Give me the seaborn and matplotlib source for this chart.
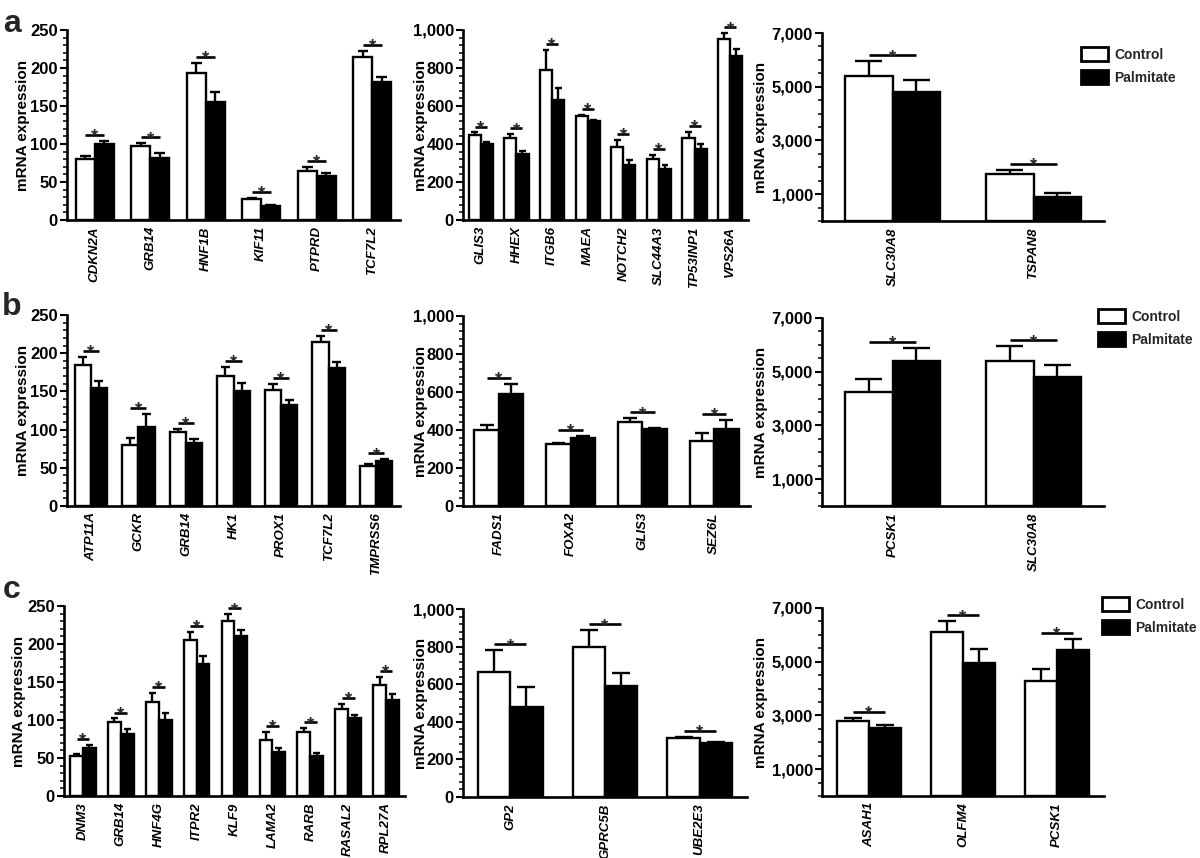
import numpy as np
import pandas as pd
import matplotlib
matplotlib.use("Agg")
import matplotlib.pyplot as plt
import seaborn as sns
from matplotlib.patches import Patch
from matplotlib.ticker import MultipleLocator, FixedLocator, FuncFormatter

# ---------------- data ----------------
a1_genes = ["CDKN2A", "GRB14", "HNF1B", "KIF11", "PTPRD", "TCF7L2"]
a1_ctrl = [80, 97, 193, 28, 65, 215]
a1_ctrl_sem = [4, 4, 14, 1.5, 4.5, 8]
a1_palm = [100, 82, 155, 18, 58, 181]
a1_palm_sem = [4, 6, 13, 1.2, 4, 7]

a2_genes = ["GLIS3", "HHEX", "ITGB6", "MAEA", "NOTCH2", "SLC44A3", "TP53INP1", "VPS26A"]
a2_ctrl = [445, 432, 792, 545, 386, 320, 430, 951]
a2_ctrl_sem = [16, 19, 105, 7, 34, 21, 35, 32]
a2_palm = [400, 348, 629, 521, 290, 269, 376, 864]
a2_palm_sem = [10, 17, 65, 4, 25, 18, 24, 36]

a3_genes = ["SLC30A8", "TSPAN8"]
a3_ctrl = [5410, 1758]
a3_ctrl_sem = [540, 150]
a3_palm = [4785, 885]
a3_palm_sem = [475, 150]

b1_genes = ["ATP11A", "GCKR", "GRB14", "HK1", "PROX1", "TCF7L2", "TMPRSS6"]
b1_ctrl = [184, 80, 97, 170, 152, 215, 53]
b1_ctrl_sem = [11, 9, 4, 12, 8, 8, 1.5]
b1_palm = [154, 104, 82, 150, 132, 181, 59]
b1_palm_sem = [10, 17, 6, 11, 7, 7, 2]

b2_genes = ["FADS1", "FOXA2", "GLIS3", "SEZ6L"]
b2_ctrl = [400, 324, 443, 344]
b2_ctrl_sem = [26, 10, 19, 42]
b2_palm = [590, 359, 403, 406]
b2_palm_sem = [53, 11, 9, 47]

b3_genes = ["PCSK1", "SLC30A8"]
b3_ctrl = [4250, 5410]
b3_ctrl_sem = [470, 540]
b3_palm = [5415, 4785]
b3_palm_sem = [470, 475]

c1_genes = ["DNM3", "GRB14", "HNF4G", "ITPR2", "KLF9", "LAMA2", "RARB", "RASAL2", "RPL27A"]
c1_ctrl = [52, 98, 124, 205, 230, 74, 84, 115, 146]
c1_ctrl_sem = [3, 4, 12, 11, 9, 10, 5, 6, 11]
c1_palm = [63, 82, 100, 174, 211, 58, 52, 102, 126]
c1_palm_sem = [4, 6, 9, 10, 8, 5, 5, 4, 8]

c2_genes = ["GP2", "GPRC5B", "UBE2E3"]
c2_ctrl = [663, 798, 312]
c2_ctrl_sem = [118, 89, 7]
c2_palm = [480, 590, 285]
c2_palm_sem = [105, 70, 5]

c3_genes = ["ASAH1", "OLFM4", "PCSK1"]
c3_ctrl = [2797, 6098, 4268]
c3_ctrl_sem = [112, 408, 470]
c3_palm = [2538, 4948, 5430]
c3_palm_sem = [123, 544, 420]

conditions = ["Control", "Palmitate"]
row_letters = ["a", "b", "c"]

# ---------------- style ----------------
sns.set_theme(style="ticks")
plt.rcParams['font.family'] = ['Liberation Sans', 'DejaVu Sans']
plt.rcParams['font.weight'] = 'bold'
plt.rcParams['axes.labelweight'] = 'bold'

W, H = 1200, 858
fig = plt.figure(figsize=(12, 8.58), dpi=100)

col_style = [
    dict(ymax=250, ticks=list(range(0, 251, 50)), minor=10),
    dict(ymax=1000, ticks=list(range(0, 1001, 200)), minor=40),
    dict(ymax=7000, ticks=[1000, 3000, 5000, 7000], minor=500),
]
# pixel boxes (left, top, right, bottom)
boxes = [
    [(67, 30, 400, 220), (463, 30, 748, 220), (822, 33, 1104, 221)],
    [(67, 315, 400, 506), (463, 316, 750, 506), (822, 318, 1104, 506)],
    [(64, 606, 405, 796), (463, 609, 747, 797), (822, 608, 1104, 796)],
]
label_x = [-0.112, -0.122, -0.19]
legend_px = [(1081, 47), (1098, 309), (1102, 597)]
letter_px = [(3, 32), (2, 315), (3, 598)]

panels = [
    [(a1_genes, a1_ctrl, a1_ctrl_sem, a1_palm, a1_palm_sem),
     (a2_genes, a2_ctrl, a2_ctrl_sem, a2_palm, a2_palm_sem),
     (a3_genes, a3_ctrl, a3_ctrl_sem, a3_palm, a3_palm_sem)],
    [(b1_genes, b1_ctrl, b1_ctrl_sem, b1_palm, b1_palm_sem),
     (b2_genes, b2_ctrl, b2_ctrl_sem, b2_palm, b2_palm_sem),
     (b3_genes, b3_ctrl, b3_ctrl_sem, b3_palm, b3_palm_sem)],
    [(c1_genes, c1_ctrl, c1_ctrl_sem, c1_palm, c1_palm_sem),
     (c2_genes, c2_ctrl, c2_ctrl_sem, c2_palm, c2_palm_sem),
     (c3_genes, c3_ctrl, c3_ctrl_sem, c3_palm, c3_palm_sem)],
]

LW = 1.7


def draw_panel(ax, genes, ctrl, csem, palm, psem, st, lx):
    n = len(genes)
    df = pd.DataFrame({
        "gene": genes + genes,
        "condition": [conditions[0]] * n + [conditions[1]] * n,
        "value": ctrl + palm,
    })
    sns.barplot(data=df, x="gene", y="value", hue="condition", hue_order=conditions,
                palette={"Control": "white", "Palmitate": "black"}, saturation=1,
                edgecolor="black", linewidth=LW, width=0.68, errorbar=None,
                legend=False, ax=ax)
    ymax = st["ymax"]
    # error bars (upper only)
    for cont, sem in zip(ax.containers, [csem, psem]):
        for bar, s in zip(cont, sem):
            x = bar.get_x() + bar.get_width() / 2
            h = bar.get_height()
            w = bar.get_width()
            ax.vlines(x, h, h + s, color="black", lw=LW, zorder=3, clip_on=False)
            ax.hlines(h + s, x - 0.28 * w, x + 0.28 * w, color="black", lw=LW, zorder=3,
                      clip_on=False)
    # significance markers
    for i in range(n):
        cb = ax.containers[0][i]
        pb = ax.containers[1][i]
        x0 = cb.get_x() + cb.get_width() / 2
        x1 = pb.get_x() + pb.get_width() / 2
        y = max(ctrl[i] + csem[i], palm[i] + psem[i]) + 0.031 * ymax
        ax.plot([x0, x1], [y, y], color="black", lw=1.9, solid_capstyle="butt", zorder=3,
                clip_on=False)
        ax.annotate("*", xy=((x0 + x1) / 2, y), xytext=(0, -4.5), textcoords="offset points",
                    ha="center", va="baseline", fontsize=13.5, fontweight="bold",
                    annotation_clip=False)
    ax.set_xlim(-0.5, n - 0.5)
    ax.set_ylim(0, ymax)
    ax.yaxis.set_major_locator(FixedLocator(st["ticks"]))
    ax.yaxis.set_minor_locator(MultipleLocator(st["minor"]))
    ax.yaxis.set_major_formatter(FuncFormatter(lambda v, p: f"{v:,.0f}"))
    ax.tick_params(axis="y", which="major", length=5, width=1.5, direction="out",
                   labelsize=12, pad=1.5, color="black", labelcolor="black")
    ax.tick_params(axis="y", which="minor", length=3, width=1.1, direction="out", color="black")
    ax.tick_params(axis="x", which="both", length=0, labelsize=9.5, labelrotation=90, pad=4.5,
                   labelcolor="black")
    for lbl in ax.get_xticklabels():
        lbl.set_fontstyle("italic")
        lbl.set_fontweight("bold")
    for lbl in ax.get_yticklabels():
        lbl.set_fontweight("bold")
    sns.despine(ax=ax)
    for sp in ["left", "bottom"]:
        ax.spines[sp].set_linewidth(1.9)
        ax.spines[sp].set_color("black")
    ax.set_xlabel("")
    ax.set_ylabel("mRNA expression", fontsize=11, fontweight="bold", color="black")
    ax.yaxis.set_label_coords(lx, 0.5)
    ax.set_facecolor("white")


for r in range(3):
    for c in range(3):
        l, t, rr, b = boxes[r][c]
        ax = fig.add_axes([l / W, 1 - b / H, (rr - l) / W, (b - t) / H])
        draw_panel(ax, *panels[r][c], col_style[c], label_x[c])
    lxp, lyp = legend_px[r]
    handles = [Patch(facecolor="white", edgecolor="black", linewidth=2.0),
               Patch(facecolor="black", edgecolor="black", linewidth=2.0)]
    fig.legend(handles, conditions, loc="upper left", bbox_to_anchor=(lxp / W, 1 - lyp / H),
               frameon=False, prop={"weight": "bold", "size": 10}, handlelength=1.95,
               handleheight=1.15, labelspacing=0.6, handletextpad=0.45, borderpad=0,
               borderaxespad=0)
    fx, fy = letter_px[r]
    fig.text(fx / W, 1 - fy / H, row_letters[r], fontsize=23, fontweight="bold",
             ha="left", va="baseline")

fig.savefig("out.png", dpi=100, facecolor="white")
